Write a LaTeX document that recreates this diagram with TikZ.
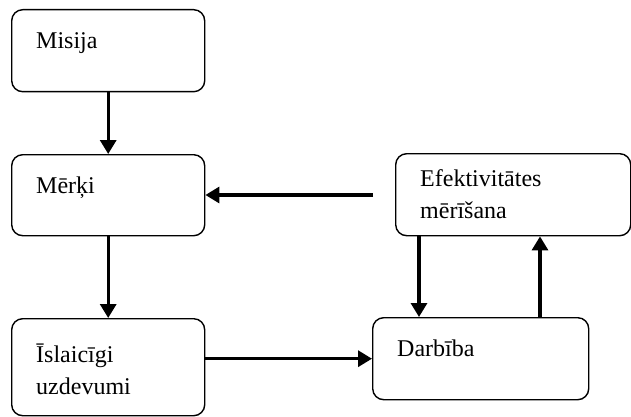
\documentclass[tikz,border=0pt]{standalone}
\usepackage{fontspec}
\setmainfont{Liberation Serif}
\usetikzlibrary{arrows.meta}
\tikzset{
  box/.style={draw, line width=1.4pt, rounded corners=11pt, anchor=north west, inner sep=0pt},
  txt/.style={anchor=north west, align=left, inner sep=0pt, xshift=25pt, yshift=-16.6pt,
    font=\fontsize{24}{32}\selectfont, execute at begin node=\strut},
  flow/.style={-{Triangle[length=14pt,width=16pt]}, line width=3.2pt}
}
\begin{document}
\begin{tikzpicture}[x=1pt,y=-1pt]
\useasboundingbox (0,0) rectangle (631,417);
% boxes
\node[box, minimum width=193pt, minimum height=82pt, label={[txt]north west:Misija}] (misija) at (11,9) {};
\node[box, minimum width=193pt, minimum height=81pt, label={[txt]north west:Mērķi}] (merki) at (11,154) {};
\node[box, minimum width=193pt, minimum height=97pt, label={[txt,yshift=-9pt]north west:Īslaicīgi\\uzdevumi}] (islaic) at (11,318) {};
\node[box, minimum width=235pt, minimum height=82pt, label={[txt]north west:Efektivitātes\\mērīšana}] (efekt) at (395,153) {};
\node[box, minimum width=216pt, minimum height=82pt, label={[txt]north west:Darbība}] (darb) at (372,317) {};
% arrows
\coordinate (back) at (373,195);
\coordinate (dn) at (419,0);
\coordinate (up) at (540,0);
\draw[flow] (misija.south) -- (merki.north);
\draw[flow] (merki.south) -- (islaic.north);
\draw[flow] (back) -- (back -| merki.east);
\draw[flow] (darb.west -| islaic.east) -- (darb.west);
\draw[flow] (efekt.south -| dn) -- (darb.north -| dn);
\draw[flow] (darb.north -| up) -- (efekt.south -| up);
\end{tikzpicture}
\end{document}
